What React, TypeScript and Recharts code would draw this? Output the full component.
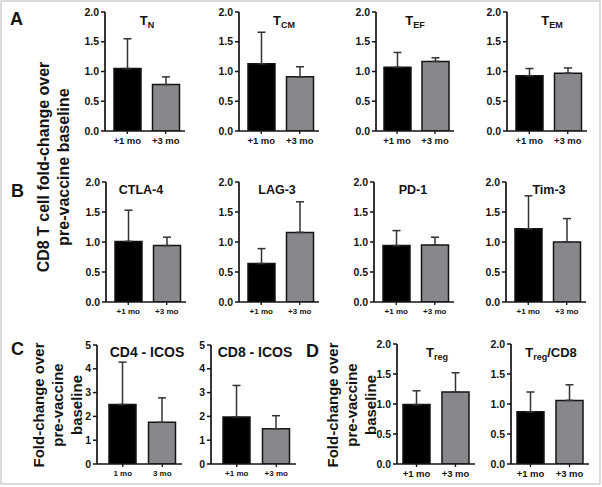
import React from 'react';
import { BarChart, Bar, XAxis, YAxis, ErrorBar, Cell } from 'recharts';

// ---- categories / tick labels ----
const timeLabels = ['+1 mo', '+3 mo'];
const timeLabelsCD4 = ['1 mo', '3 mo'];
const ticksFold = [0, 0.5, 1, 1.5, 2];
const ticksICOS = [0, 1, 2, 3, 4, 5];
const barColors = ['#000000', '#87888b'];

// ---- series: mean fold-change and upper error (SEM) ----
const tnMean = [1.05, 0.78];
const tnErr = [0.5, 0.13];
const tcmMean = [1.13, 0.91];
const tcmErr = [0.53, 0.17];
const tefMean = [1.07, 1.17];
const tefErr = [0.25, 0.06];
const temMean = [0.93, 0.97];
const temErr = [0.12, 0.09];

const ctla4Mean = [1.01, 0.94];
const ctla4Err = [0.52, 0.14];
const lag3Mean = [0.64, 1.16];
const lag3Err = [0.25, 0.51];
const pd1Mean = [0.94, 0.95];
const pd1Err = [0.25, 0.13];
const tim3Mean = [1.22, 1.0];
const tim3Err = [0.55, 0.39];

const cd4IcosMean = [2.5, 1.75];
const cd4IcosErr = [1.78, 1.03];
const cd8IcosMean = [1.98, 1.48];
const cd8IcosErr = [1.32, 0.55];

const tregMean = [0.99, 1.2];
const tregErr = [0.23, 0.32];
const tregCd8Mean = [0.87, 1.06];
const tregCd8Err = [0.33, 0.26];

const FONT = '"Liberation Sans", Arial, Helvetica, sans-serif';
const INK = '#141414';

const fmt1 = (v: number) => v.toFixed(1);
const fmt0 = (v: number) => String(v);

type PanelProps = {
  x: number;
  top: number;
  w: number;
  h: number;
  labels: string[];
  mean: number[];
  err: number[];
  ticks: number[];
  fmt: (v: number) => string;
  xFont: number;
  padL: number;
};

function makeYTick(fmt: (v: number) => string) {
  return (props: any) => {
    const { x, y, payload } = props;
    return (
      <text x={x} y={y} dy={3.6} textAnchor="end" fontSize={10.5} fontWeight="bold" fill={INK} fontFamily={FONT}>
        {fmt(payload.value)}
      </text>
    );
  };
}

function makeXTick(size: number) {
  return (props: any) => {
    const { x, y, payload } = props;
    return (
      <text x={x} y={y} dy={size * 0.72} textAnchor="middle" fontSize={size} fontWeight="bold" fill={INK} fontFamily={FONT}>
        {payload.value}
      </text>
    );
  };
}

function Panel({ x, top, w, h, labels, mean, err, ticks, fmt, xFont, padL }: PanelProps) {
  const data = labels.map((c, i) => ({ cat: c, v: mean[i], e: [0, err[i]] }));
  const YW = 32;
  const MT = 8;
  const XH = 24;
  const MR = 6;
  return (
    <div style={{ position: 'absolute', left: x - YW, top: top - MT }}>
      <BarChart
        width={YW + w + MR}
        height={MT + h + XH}
        data={data}
        margin={{ top: MT, right: MR, bottom: 0, left: 0 }}
      >
        <XAxis
          dataKey="cat"
          height={XH}
          interval={0}
          tickSize={3}
          tickMargin={3}
          stroke={INK}
          padding={{ left: padL, right: 0 }}
          axisLine={{ stroke: INK, strokeWidth: 1.7 }}
          tickLine={{ stroke: INK, strokeWidth: 1.3 }}
          tick={makeXTick(xFont)}
        />
        <YAxis
          width={YW}
          domain={[0, ticks[ticks.length - 1]]}
          ticks={ticks}
          interval={0}
          tickSize={4}
          tickMargin={2}
          stroke={INK}
          allowDataOverflow
          axisLine={{ stroke: INK, strokeWidth: 1.7 }}
          tickLine={{ stroke: INK, strokeWidth: 1.5 }}
          tick={makeYTick(fmt)}
        />
        <Bar dataKey="v" barSize={27} isAnimationActive={false} stroke="#141414" strokeWidth={1.5}>
          {data.map((d, i) => (
            <Cell key={d.cat} fill={barColors[i]} />
          ))}
          <ErrorBar dataKey="e" width={4} stroke="#333333" strokeWidth={1.5} direction="y" isAnimationActive={false} />
        </Bar>
      </BarChart>
    </div>
  );
}

const titleStyle = { fontFamily: FONT, fontWeight: 'bold' as const, fill: INK };

export default function App() {
  return (
    <div style={{ position: 'absolute', left: 0, top: 0, width: 602, height: 487, background: '#fff', overflow: 'hidden' }}>
      {/* Row A */}
      <Panel x={105} top={12} w={80} h={119} labels={timeLabels} mean={tnMean} err={tnErr} ticks={ticksFold} fmt={fmt1} xFont={9.5} padL={3} />
      <Panel x={239} top={12} w={80} h={119} labels={timeLabels} mean={tcmMean} err={tcmErr} ticks={ticksFold} fmt={fmt1} xFont={9.5} padL={3} />
      <Panel x={376} top={12} w={78} h={119} labels={timeLabels} mean={tefMean} err={tefErr} ticks={ticksFold} fmt={fmt1} xFont={9.5} padL={2} />
      <Panel x={507} top={12} w={80} h={119} labels={timeLabels} mean={temMean} err={temErr} ticks={ticksFold} fmt={fmt1} xFont={9.5} padL={3} />
      {/* Row B */}
      <Panel x={106} top={182} w={80} h={120} labels={timeLabels} mean={ctla4Mean} err={ctla4Err} ticks={ticksFold} fmt={fmt1} xFont={8} padL={3} />
      <Panel x={239} top={182} w={80} h={120} labels={timeLabels} mean={lag3Mean} err={lag3Err} ticks={ticksFold} fmt={fmt1} xFont={8} padL={3} />
      <Panel x={374} top={182} w={80} h={120} labels={timeLabels} mean={pd1Mean} err={pd1Err} ticks={ticksFold} fmt={fmt1} xFont={8} padL={3} />
      <Panel x={506} top={182} w={80} h={120} labels={timeLabels} mean={tim3Mean} err={tim3Err} ticks={ticksFold} fmt={fmt1} xFont={8} padL={3} />
      {/* Row C */}
      <Panel x={97} top={345} w={85} h={119} labels={timeLabelsCD4} mean={cd4IcosMean} err={cd4IcosErr} ticks={ticksICOS} fmt={fmt0} xFont={8} padL={6} />
      <Panel x={211} top={345} w={85} h={119} labels={timeLabels} mean={cd8IcosMean} err={cd8IcosErr} ticks={ticksICOS} fmt={fmt0} xFont={8} padL={6} />
      {/* Row D */}
      <Panel x={397} top={344} w={78} h={120} labels={timeLabels} mean={tregMean} err={tregErr} ticks={ticksFold} fmt={fmt1} xFont={9.5} padL={0} />
      <Panel x={511} top={344} w={78} h={120} labels={timeLabels} mean={tregCd8Mean} err={tregCd8Err} ticks={ticksFold} fmt={fmt1} xFont={9.5} padL={0} />

      <svg width={602} height={487} style={{ position: 'absolute', left: 0, top: 0, pointerEvents: 'none' }}>
        <rect x={1} y={1} width={599} height={483} fill="none" stroke="#cfcfcf" strokeWidth={1.5} />
        {/* panel letters */}
        <text x={10} y={25} fontSize={18} {...titleStyle}>A</text>
        <text x={11} y={197} fontSize={18} {...titleStyle}>B</text>
        <text x={11} y={355} fontSize={18} {...titleStyle}>C</text>
        <text x={306} y={357} fontSize={18} {...titleStyle}>D</text>

        {/* y-axis labels */}
        <text transform="translate(49,167) rotate(-90)" textAnchor="middle" fontSize={16} {...titleStyle}>CD8 T cell fold-change over</text>
        <text transform="translate(69,167) rotate(-90)" textAnchor="middle" fontSize={16} {...titleStyle}>pre-vaccine baseline</text>

        <text transform="translate(44,405) rotate(-90)" textAnchor="middle" fontSize={15} {...titleStyle}>Fold-change over</text>
        <text transform="translate(63,405) rotate(-90)" textAnchor="middle" fontSize={15} {...titleStyle}>pre-vaccine</text>
        <text transform="translate(82,405) rotate(-90)" textAnchor="middle" fontSize={15} {...titleStyle}>baseline</text>

        <text transform="translate(338,405) rotate(-90)" textAnchor="middle" fontSize={15} {...titleStyle}>Fold-change over</text>
        <text transform="translate(357,405) rotate(-90)" textAnchor="middle" fontSize={15} {...titleStyle}>pre-vaccine</text>
        <text transform="translate(376,405) rotate(-90)" textAnchor="middle" fontSize={15} {...titleStyle}>baseline</text>

        {/* panel titles, row A */}
        <text x={147} y={25} textAnchor="middle" fontSize={13} {...titleStyle}>T<tspan fontSize={9} dy={3}>N</tspan></text>
        <text x={284} y={25} textAnchor="middle" fontSize={13} {...titleStyle}>T<tspan fontSize={9} dy={3}>CM</tspan></text>
        <text x={415} y={25} textAnchor="middle" fontSize={13} {...titleStyle}>T<tspan fontSize={9} dy={3}>EF</tspan></text>
        <text x={552} y={25} textAnchor="middle" fontSize={13} {...titleStyle}>T<tspan fontSize={9} dy={3}>EM</tspan></text>

        {/* row B */}
        <text x={141} y={194} textAnchor="middle" fontSize={12.5} {...titleStyle}>CTLA-4</text>
        <text x={277} y={194} textAnchor="middle" fontSize={12.5} {...titleStyle}>LAG-3</text>
        <text x={413} y={194} textAnchor="middle" fontSize={12.5} {...titleStyle}>PD-1</text>
        <text x={549} y={194} textAnchor="middle" fontSize={12.5} {...titleStyle}>Tim-3</text>

        {/* row C */}
        <text x={147} y={357} textAnchor="middle" fontSize={14} {...titleStyle}>CD4 - ICOS</text>
        <text x={255} y={357} textAnchor="middle" fontSize={14} {...titleStyle}>CD8 - ICOS</text>

        {/* row D */}
        <text x={437} y={357} textAnchor="middle" fontSize={13} {...titleStyle}>T<tspan fontSize={9} dy={3}>reg</tspan></text>
        <text x={551} y={357} textAnchor="middle" fontSize={13} {...titleStyle}>T<tspan fontSize={9} dy={3}>reg</tspan><tspan dy={-3}>/CD8</tspan></text>
      </svg>
    </div>
  );
}
